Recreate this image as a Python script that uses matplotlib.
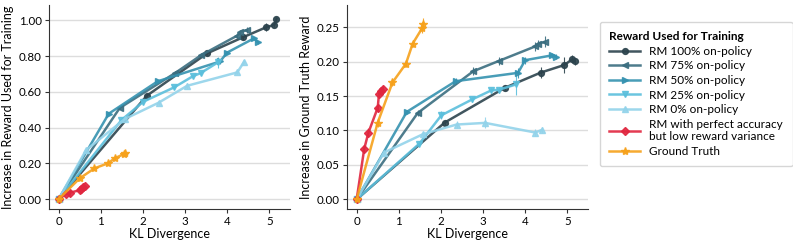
import matplotlib
matplotlib.use("Agg")
import matplotlib.pyplot as plt
import numpy as np

plt.rcParams['font.family'] = ['Lato', 'DejaVu Sans']

labels = ["RM 100% on-policy", "RM 75% on-policy", "RM 50% on-policy",
          "RM 25% on-policy", "RM 0% on-policy",
          "RM with perfect accuracy\nbut low reward variance", "Ground Truth"]
colors = ["#2c434d", "#3b6e80", "#3592b0", "#5bbfdc", "#93d3ea", "#e0263f", "#f6a11b"]
markers = ["o", "<", ">", "v", "^", "D", "*"]

# KL divergence per series
kl_100 = [0, 2.09, 3.52, 4.37, 4.93, 5.12, 5.17]
kl_75 = [0, 1.45, 2.77, 3.38, 4.24, 4.31, 4.47]
kl_50 = [0, 1.19, 2.35, 3.83, 4.00, 4.64, 4.72]
kl_25 = [0, 1.49, 2.01, 2.74, 3.19, 3.37, 3.78]
kl_0 = [0, 0.65, 1.57, 2.37, 3.05, 4.24, 4.40]
kl_perf = [0, 0.18, 0.28, 0.50, 0.53, 0.57, 0.62]
kl_gt = [0, 0.50, 0.85, 1.17, 1.33, 1.55, 1.58]

# Increase in reward used for training
tr_100 = [0, 0.578, 0.815, 0.905, 0.962, 0.975, 1.008]
tr_75 = [0, 0.510, 0.706, 0.805, 0.915, 0.936, 0.946]
tr_50 = [0, 0.478, 0.659, 0.770, 0.820, 0.900, 0.878]
tr_25 = [0, 0.442, 0.545, 0.625, 0.688, 0.705, 0.765]
tr_0 = [0, 0.274, 0.448, 0.539, 0.634, 0.709, 0.768]
tr_perf = [0, 0.030, 0.036, 0.050, 0.058, 0.066, 0.072]
tr_gt = [0, 0.116, 0.172, 0.200, 0.228, 0.252, 0.259]

# Increase in ground truth reward
gt_100 = [0, 0.1115, 0.162, 0.184, 0.195, 0.2035, 0.2005]
gt_75 = [0, 0.1254, 0.186, 0.201, 0.222, 0.226, 0.2287]
gt_50 = [0, 0.127, 0.1715, 0.1836, 0.202, 0.209, 0.207]
gt_25 = [0, 0.081, 0.122, 0.145, 0.158, 0.159, 0.1667]
gt_0 = [0, 0.068, 0.0945, 0.1086, 0.111, 0.097, 0.101]
gt_perf = [0, 0.0735, 0.097, 0.133, 0.153, 0.157, 0.160]
gt_gt = [0, 0.1115, 0.1696, 0.197, 0.226, 0.248, 0.255]

# error bar half-widths (ground truth panel)
err_100 = [0, 0.004, 0.004, 0.008, 0.012, 0.006, 0.005]
err_75 = [0, 0.004, 0.006, 0.006, 0.006, 0.005, 0.008]
err_50 = [0, 0.003, 0.004, 0.007, 0.005, 0.004, 0.004]
err_25 = [0, 0.004, 0.006, 0.004, 0.004, 0.004, 0.015]
err_0 = [0, 0.003, 0.004, 0.005, 0.008, 0.005, 0.004]
err_perf = [0, 0.005, 0.006, 0.005, 0.005, 0.004, 0.004]
err_gt = [0, 0.006, 0.005, 0.005, 0.005, 0.006, 0.008]

kls = [kl_100, kl_75, kl_50, kl_25, kl_0, kl_perf, kl_gt]
trs = [tr_100, tr_75, tr_50, tr_25, tr_0, tr_perf, tr_gt]
gts = [gt_100, gt_75, gt_50, gt_25, gt_0, gt_perf, gt_gt]
errs = [err_100, err_75, err_50, err_25, err_0, err_perf, err_gt]

fig = plt.figure(figsize=(7.93, 2.46), dpi=100)
ax1 = fig.add_axes([0.0612, 0.1516, 0.305, 0.828])
ax2 = fig.add_axes([0.437, 0.1516, 0.305, 0.828])

handles = []
for i in range(7):
    ms = 6.0 if markers[i] == "*" else 4.2
    h = ax1.errorbar(kls[i], trs[i], yerr=[e * 2.0 for e in errs[i]], color=colors[i],
                     marker=markers[i], markersize=ms, linewidth=1.8, alpha=0.9,
                     elinewidth=0.8, ecolor=colors[i], capsize=0, zorder=3 + (i >= 5))
    handles.append(h.lines[0])
    ax2.errorbar(kls[i], gts[i], yerr=errs[i], color=colors[i],
                 marker=markers[i], markersize=ms, linewidth=1.8, alpha=0.9,
                 elinewidth=0.8, ecolor=colors[i], capsize=0, zorder=3 + (i >= 5))

for ax in (ax1, ax2):
    ax.spines['top'].set_visible(False)
    ax.spines['right'].set_visible(False)
    ax.spines['left'].set_color('#333333')
    ax.spines['bottom'].set_color('#333333')
    ax.grid(axis='y', color='#dddddd', linewidth=1.0, zorder=0)
    ax.set_axisbelow(True)
    ax.set_xlim(-0.24, 5.5)
    ax.set_xticks([0, 1, 2, 3, 4, 5])
    ax.tick_params(labelsize=8.3, length=3, color='#333333', pad=2)
    ax.set_xlabel("KL Divergence", fontsize=9, labelpad=1)

ax1.set_ylim(-0.054, 1.086)
ax1.set_yticks([0, 0.2, 0.4, 0.6, 0.8, 1.0])
ax1.set_yticklabels(["0.00", "0.20", "0.40", "0.60", "0.80", "1.00"])
ax1.set_ylabel("Increase in Reward Used for Training", fontsize=9, labelpad=3)

ax2.set_ylim(-0.0135, 0.282)
ax2.set_yticks([0, 0.05, 0.10, 0.15, 0.20, 0.25])
ax2.set_yticklabels(["0.00", "0.05", "0.10", "0.15", "0.20", "0.25"])
ax2.set_ylabel("Increase in Ground Truth Reward", fontsize=9, labelpad=3)

leg = fig.legend(handles, labels, loc='upper left', bbox_to_anchor=(0.749, 0.935),
                 title="Reward Used for Training", fontsize=8.5,
                 title_fontproperties={'weight': 'bold', 'size': 8.5},
                 frameon=True, fancybox=True, edgecolor='#cccccc',
                 handlelength=2.6, handletextpad=0.8, labelspacing=0.3,
                 borderpad=0.8)
leg._legend_box.align = "left"

fig.savefig("out.png", dpi=100)
